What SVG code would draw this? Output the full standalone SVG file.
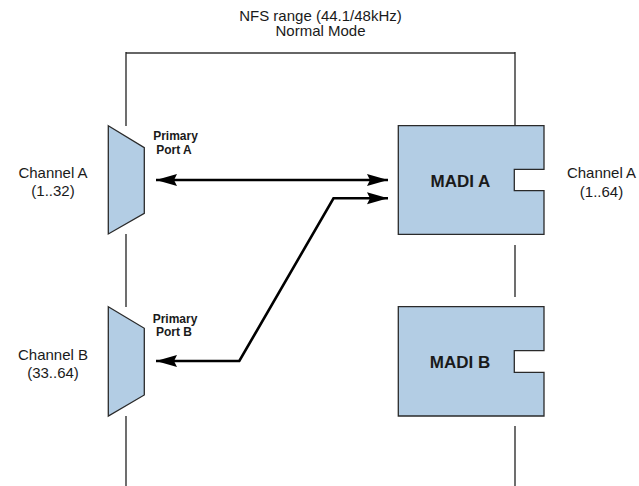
<svg xmlns="http://www.w3.org/2000/svg" width="639" height="486" viewBox="0 0 639 486">
<style>
text{font-family:"Liberation Sans",Arial,sans-serif;fill:#1a1a1a}
.lbl{font-size:15px;text-anchor:middle}
.port{font-size:12px;font-weight:bold;text-anchor:middle}
.madi{font-size:17px;font-weight:bold;text-anchor:middle}
.shape{fill:#B3CDE4;stroke:#2a2a2a;stroke-width:1.3}
.frame{stroke:#222;stroke-width:1.3;fill:none}
.conn{stroke:#000;stroke-width:2.6;fill:none}
</style>
<defs>
<marker id="ah" markerUnits="userSpaceOnUse" markerWidth="24" markerHeight="14" refX="21" refY="6.5" orient="auto-start-reverse">
<path d="M0,0.5 L21,6.5 L0,12.5 L3,6.5 Z" fill="#000"/>
</marker>
</defs>
<g id="title">
<text class="lbl" x="320.5" y="20.5">NFS range (44.1/48kHz)</text>
<text class="lbl" x="320.5" y="36">Normal Mode</text>
</g>
<g id="frame">
<line x1="126" y1="53" x2="515" y2="53" stroke="#666" stroke-width="2"/>
<path class="frame" d="M126,52 V126 M126,234 V307 M126,416 V486"/>
<path class="frame" d="M515,52 V126 M515,245 V297 M515,426 V486"/>
</g>
<g id="port-a">
<polygon class="shape" points="108.3,125.7 144.3,147.7 144.3,213.3 108.3,234"/>
<text class="port" x="175.5" y="140">Primary</text>
<text class="port" x="174" y="154.3">Port A</text>
</g>
<g id="port-b">
<polygon class="shape" points="108.3,306.7 144.3,328.3 144.3,395 108.3,416"/>
<text class="port" x="175" y="322.7">Primary</text>
<text class="port" x="174" y="336">Port B</text>
</g>
<g id="madi-a">
<path class="shape" d="M398.3,125.7 H544 V169.3 H514.3 V190.7 H544 V234.3 H398.3 Z"/>
<text class="madi" x="460.5" y="186.7">MADI A</text>
</g>
<g id="madi-b">
<path class="shape" d="M398.3,306.7 H544 V350.7 H514.3 V372.3 H544 V416 H398.3 Z"/>
<text class="madi" x="460" y="367.7">MADI B</text>
</g>
<g id="channel-a-left">
<text class="lbl" x="53" y="178.3">Channel A</text>
<text class="lbl" x="53" y="196">(1..32)</text>
</g>
<g id="channel-b-left">
<text class="lbl" x="53" y="360">Channel B</text>
<text class="lbl" x="53" y="378">(33..64)</text>
</g>
<g id="channel-a-right">
<text class="lbl" x="601.5" y="178.3">Channel A</text>
<text class="lbl" x="601.5" y="197">(1..64)</text>
</g>
<g id="connectors">
<line class="conn" x1="156" y1="180" x2="388" y2="180" marker-start="url(#ah)" marker-end="url(#ah)"/>
<polyline class="conn" points="156,361 239.3,361 333.5,198.3 388,198.3" marker-start="url(#ah)" marker-end="url(#ah)"/>
</g>
</svg>
